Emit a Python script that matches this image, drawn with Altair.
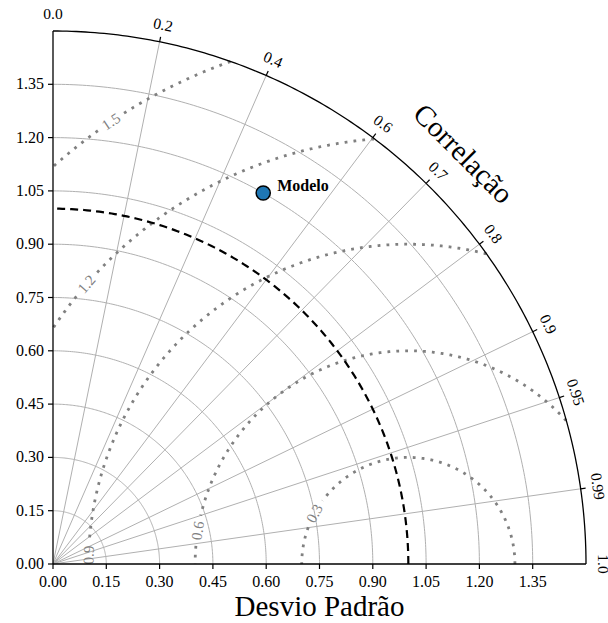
import numpy as np
import pandas as pd
import altair as alt

FONT = "Liberation Serif"

# ---- values ----
axis_ticks = [0.0, 0.15, 0.30, 0.45, 0.60, 0.75, 0.90, 1.05, 1.20, 1.35]
std_grid = [0.15, 0.30, 0.45, 0.60, 0.75, 0.90, 1.05, 1.20, 1.35]
corr_ticks = [0.0, 0.2, 0.4, 0.6, 0.7, 0.8, 0.9, 0.95, 0.99, 1.0]
corr_labels = ["0.0", "0.2", "0.4", "0.6", "0.7", "0.8", "0.9", "0.95", "0.99", "1.0"]
rms_levels = [0.3, 0.6, 0.9, 1.2, 1.5]
rms_labels = ["0.3", "0.6", "0.9", "1.2", "1.5"]
rms_label_angles = [151.7, 171.0, 178.4, 139.0, 123.9]
max_std = 1.5
ref_std = 1.0
model_names = ["Modelo"]
model_std = [1.2]
model_corr = [0.493]
obs_name = "Observação"
x_title = "Desvio Padrão"
corr_title = "Correlação"

W = 533
PX = W / max_std
TICK = 5.0 / PX

xs = alt.Scale(domain=[0, max_std], nice=False, zero=False)
ys = alt.Scale(domain=[0, max_std], nice=False, zero=False)


def X(f="x"):
    return alt.X(f"{f}:Q", scale=xs, axis=None)


def Y(f="y"):
    return alt.Y(f"{f}:Q", scale=ys, axis=None)


def poly(xv, yv, **mk):
    df = pd.DataFrame({"x": np.asarray(xv, float), "y": np.asarray(yv, float),
                       "ord": np.arange(len(xv))})
    return alt.Chart(df).mark_line(**mk).encode(x=X(), y=Y(), order="ord:Q")


layers = []
th = np.linspace(0, np.pi / 2, 181)

# std grid arcs
for s in std_grid:
    layers.append(poly(s * np.cos(th), s * np.sin(th), color="#b0b0b0", strokeWidth=1))

# correlation radial lines
for c in corr_ticks[1:-1]:
    a = np.arccos(c)
    layers.append(poly([0, max_std * np.cos(a)], [0, max_std * np.sin(a)],
                       color="#b0b0b0", strokeWidth=1))

# RMS contours (with gap for inline label)
tt = np.linspace(0, 180, 1441)
for R, la in zip(rms_levels, rms_label_angles):
    gap = np.degrees(15.0 / (R * PX))
    for side in ("a", "b"):
        xv, yv = [], []
        for t in tt:
            if (side == "a" and t >= la) or (side == "b" and t <= la):
                continue
            x = ref_std + R * np.cos(np.radians(t))
            y = R * np.sin(np.radians(t))
            if x < 0 or np.hypot(x, y) > max_std or abs(t - la) < gap:
                continue
            xv.append(x)
            yv.append(y)
        if len(xv) > 1:
            layers.append(poly(xv, yv, color="#808080", strokeWidth=2.8,
                               strokeDash=[2.8, 6.1]))

rows = []
for R, lab, la in zip(rms_levels, rms_labels, rms_label_angles):
    t = np.radians(la)
    rows.append({"x": ref_std + R * np.cos(t), "y": R * np.sin(t), "label": lab,
                 "rot": (90 - la) % 360})
rms_text = pd.DataFrame(rows)
layers.append(alt.Chart(rms_text).mark_text(font=FONT, fontSize=15, color="#808080",
                                            align="center", baseline="middle").encode(
    x=X(), y=Y(), text="label:N", angle=alt.Angle("rot:Q", scale=None)))

# reference std arc (dashed) and outer arc
layers.append(poly(ref_std * np.cos(th), ref_std * np.sin(th), color="black",
                   strokeWidth=2.2, strokeDash=[8, 5]))
layers.append(poly(max_std * np.cos(th), max_std * np.sin(th), color="black",
                   strokeWidth=1.3))

# Cartesian axes (drawn through the scales)
ax_lines = pd.DataFrame({"x": [0.0, 0.0], "y": [0.0, 0.0],
                         "x2": [max_std, 0.0], "y2": [0.0, max_std]})
layers.append(alt.Chart(ax_lines).mark_rule(color="black", strokeWidth=1.3).encode(
    x=X(), y=Y(), x2="x2:Q", y2="y2:Q"))

lab_fmt = [f"{v:.2f}" for v in axis_ticks]
xt = pd.DataFrame({"x": axis_ticks, "y": [0.0] * len(axis_ticks),
                   "x2": axis_ticks, "y2": [-TICK] * len(axis_ticks), "label": lab_fmt})
yt = pd.DataFrame({"x": [0.0] * len(axis_ticks), "y": axis_ticks,
                   "x2": [-TICK] * len(axis_ticks), "y2": axis_ticks, "label": lab_fmt})
layers.append(alt.Chart(xt).mark_rule(color="black", strokeWidth=1.2).encode(
    x=X(), y=Y(), x2="x2:Q", y2="y2:Q"))
layers.append(alt.Chart(yt).mark_rule(color="black", strokeWidth=1.2).encode(
    x=X(), y=Y(), x2="x2:Q", y2="y2:Q"))
layers.append(alt.Chart(xt).mark_text(font=FONT, fontSize=16, color="black", align="center",
                                      baseline="middle", dy=18).encode(
    x=X(), y=Y(), text="label:N"))
layers.append(alt.Chart(yt).mark_text(font=FONT, fontSize=16, color="black", align="right",
                                      baseline="middle", dx=-9).encode(
    x=X(), y=Y(), text="label:N"))
xtitle = pd.DataFrame({"x": [max_std / 2], "y": [0.0], "label": [x_title]})
layers.append(alt.Chart(xtitle).mark_text(font=FONT, fontSize=29, color="black",
                                          align="center", baseline="alphabetic",
                                          dy=52).encode(x=X(), y=Y(), text="label:N"))

# correlation ticks and labels
rows = []
for c in corr_ticks[1:-1]:
    a = np.arccos(c)
    r2 = max_std + TICK
    rows.append({"x": max_std * np.cos(a), "y": max_std * np.sin(a),
                 "x2": r2 * np.cos(a), "y2": r2 * np.sin(a)})
corr_tk = pd.DataFrame(rows)
layers.append(alt.Chart(corr_tk).mark_rule(color="black", strokeWidth=1.2).encode(
    x=X(), y=Y(), x2="x2:Q", y2="y2:Q"))

rows = []
for c, lab in zip(corr_ticks, corr_labels):
    a = np.arccos(c)
    r_lab = max_std + 0.048
    rows.append({"x": r_lab * np.cos(a), "y": r_lab * np.sin(a), "label": lab,
                 "rot": 90 - np.degrees(a)})
corr_text = pd.DataFrame(rows)
layers.append(alt.Chart(corr_text).mark_text(font=FONT, fontSize=15.5, color="black",
                                             align="center", baseline="middle").encode(
    x=X(), y=Y(), text="label:N", angle=alt.Angle("rot:Q", scale=None)))

ct = pd.DataFrame({"x": [1.631 * np.cos(np.pi / 4)], "y": [1.631 * np.sin(np.pi / 4)],
                   "label": [corr_title]})
layers.append(alt.Chart(ct).mark_text(font=FONT, fontSize=29, color="black", angle=45,
                                      align="center", baseline="middle").encode(
    x=X(), y=Y(), text="label:N"))

# model and observation
pts = pd.DataFrame({"x": [s * c for s, c in zip(model_std, model_corr)],
                    "y": [s * np.sin(np.arccos(c)) for s, c in zip(model_std, model_corr)],
                    "label": model_names})
obs = pd.DataFrame({"x": [ref_std], "y": [0.0], "label": [obs_name]})

layers.append(alt.Chart(pts).mark_point(shape="circle", filled=True, fill="#1f77b4",
                                        stroke="black", strokeWidth=1.5, size=200,
                                        opacity=1).encode(x=X(), y=Y()))
layers.append(alt.Chart(pts).mark_text(font=FONT, fontSize=16, fontWeight="bold",
                                       color="black", align="left", baseline="alphabetic",
                                       dx=14, dy=-2).encode(x=X(), y=Y(), text="label:N"))
layers.append(alt.Chart(obs).mark_point(shape="star", filled=True, color="black", size=170,
                                        opacity=1).encode(x=X(), y=Y()))
layers.append(alt.Chart(obs).mark_text(font=FONT, fontSize=15, fontWeight="bold",
                                       color="black", align="left", baseline="alphabetic",
                                       dx=5, dy=-8).encode(x=X(), y=Y(), text="label:N"))

chart = alt.layer(*layers).properties(
    width=W, height=W,
    autosize=alt.AutoSizeParams(type="none"),
    padding={"left": 53, "top": 31, "right": 22, "bottom": 59},
).configure(background="white").configure_view(strokeWidth=0)

chart.save("out.html", embed_options={"renderer": "svg", "actions": False})
